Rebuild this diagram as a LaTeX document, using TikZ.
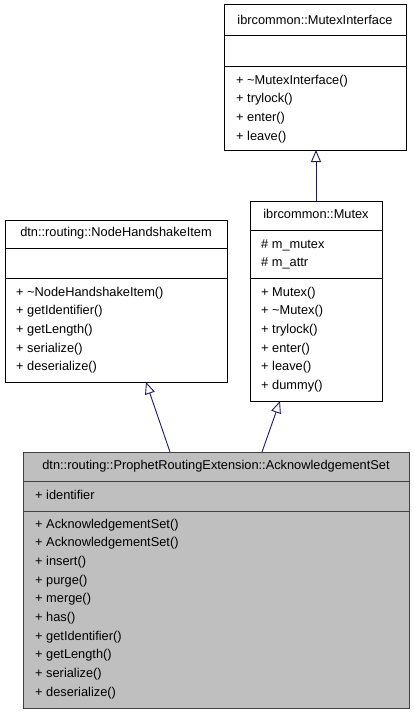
\documentclass[tikz,border=0pt]{standalone}
\usepackage{fontspec}
\setmainfont{Liberation Sans}
\usetikzlibrary{arrows.meta}
\definecolor{navy}{HTML}{191970}
\definecolor{gfill}{HTML}{BFBFBF}
\definecolor{gline}{HTML}{404040}
\begin{document}
\begin{tikzpicture}[x=1pt,y=-1pt,
  box/.style={draw=black, line width=1pt, fill=white},
  gbox/.style={draw=gline, line width=1pt, fill=gfill},
  sep/.style={draw=black, line width=1pt},
  gsep/.style={draw=gline, line width=1pt},
  txt/.style={anchor=base west, inner sep=0pt, font=\fontsize{12.8}{15}\selectfont},
  ttl/.style={anchor=base, inner sep=0pt, font=\fontsize{12.8}{15}\selectfont},
  inh/.style={draw=navy, line width=0.9pt, -{Triangle[open, length=12pt, width=10pt]}}]
\useasboundingbox (0,0) rectangle (413,715);
% MutexInterface
\draw[box] (224,4) rectangle (406,150);
\draw[sep] (224,35) -- (406,35);
\draw[sep] (224,66) -- (406,66);
\node[ttl] (mit) at (315,24) {ibrcommon::MutexInterface};
\node[txt] (mi1) at (236,84) {+ \textasciitilde MutexInterface()};
\node[txt] (mi2) at (236,102.7) {+ trylock()};
\node[txt] (mi3) at (236,121.4) {+ enter()};
\node[txt] (mi4) at (236,140.1) {+ leave()};
\coordinate (miB) at (316,150);
% NodeHandshakeItem
\draw[box] (5,220) rectangle (227,382);
\draw[sep] (5,248) -- (227,248);
\draw[sep] (5,278) -- (227,278);
\node[ttl] (nht) at (116,236) {dtn::routing::NodeHandshakeItem};
\node[txt] (nh1) at (16,296) {+ \textasciitilde NodeHandshakeItem()};
\node[txt] (nh2) at (16,314.7) {+ getIdentifier()};
\node[txt] (nh3) at (16,333.4) {+ getLength()};
\node[txt] (nh4) at (16,352.1) {+ serialize()};
\node[txt] (nh5) at (16,370.8) {+ deserialize()};
\coordinate (nhB) at (146,382);
% Mutex
\draw[box] (250,201) rectangle (382,401);
\draw[sep] (250,230) -- (382,230);
\draw[sep] (250,278) -- (382,278);
\node[ttl] (mxt) at (316,218) {ibrcommon::Mutex};
\node[txt] (mxa1) at (261,248) {\# m\_mutex};
\node[txt] (mxa2) at (261,266.7) {\# m\_attr};
\node[txt] (mx1) at (261,296) {+ Mutex()};
\node[txt] (mx2) at (261,314.7) {+ \textasciitilde Mutex()};
\node[txt] (mx3) at (261,333.4) {+ trylock()};
\node[txt] (mx4) at (261,352.1) {+ enter()};
\node[txt] (mx5) at (261,370.8) {+ leave()};
\node[txt] (mx6) at (261,389.5) {+ dummy()};
\coordinate (mxT) at (316,201);
\coordinate (mxB) at (280,401);
% AcknowledgementSet
\draw[gbox] (23,452) rectangle (409,708);
\draw[gsep] (23,481) -- (409,481);
\draw[gsep] (23,511) -- (409,511);
\node[ttl] (akt) at (216,469) {dtn::routing::ProphetRoutingExtension::AcknowledgementSet};
\node[txt] (aka) at (35,499) {+ identifier};
\node[txt] (ak1) at (35,528) {+ AcknowledgementSet()};
\node[txt] (ak2) at (35,546.7) {+ AcknowledgementSet()};
\node[txt] (ak3) at (35,565.4) {+ insert()};
\node[txt] (ak4) at (35,584.1) {+ purge()};
\node[txt] (ak5) at (35,602.8) {+ merge()};
\node[txt] (ak6) at (35,621.5) {+ has()};
\node[txt] (ak7) at (35,640.2) {+ getIdentifier()};
\node[txt] (ak8) at (35,658.9) {+ getLength()};
\node[txt] (ak9) at (35,677.6) {+ serialize()};
\node[txt] (ak10) at (35,696.3) {+ deserialize()};
\coordinate (akT1) at (170,452);
\coordinate (akT2) at (262,452);
% inheritance
\draw[inh] (mxT) -- (miB);
\draw[inh] (akT1) -- (nhB);
\draw[inh] (akT2) -- (mxB);
\end{tikzpicture}
\end{document}
